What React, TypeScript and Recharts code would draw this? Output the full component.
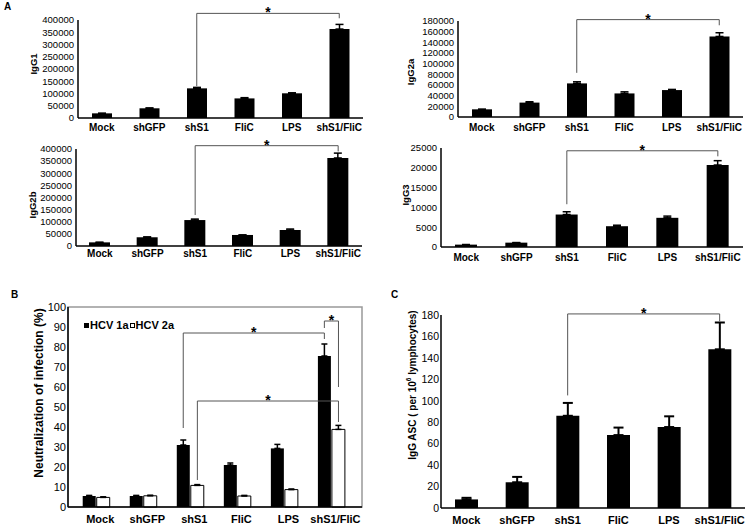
import React from 'react';
import {
  BarChart,
  Bar,
  XAxis,
  YAxis,
  ErrorBar,
  ReferenceLine,
  ReferenceArea,
  Legend
} from 'recharts';

const FONT = '"Liberation Sans", Arial, Helvetica, sans-serif';

const GROUPS = ['Mock', 'shGFP', 'shS1', 'FliC', 'LPS', 'shS1/FliC'];

// panel A: titres per IgG subclass
const IGG1 = [19000, 39600, 121000, 80000, 100800, 363000];
const IGG1_ERR = [0, 1500, 4000, 3000, 2000, 19000];
const IGG1_TICKS = [0, 50000, 100000, 150000, 200000, 250000, 300000, 350000, 400000];
const IGG1_BRACKET = [130000, 427000, 407000];

const IGG2A = [14400, 27000, 63000, 44200, 50500, 151000];
const IGG2A_ERR = [0, 1600, 3000, 3000, 1200, 7000];
const IGG2A_TICKS = [0, 20000, 40000, 60000, 80000, 100000, 120000, 140000, 160000, 180000];
const IGG2A_BRACKET = [82800, 182600, 172000];

const IGG2B = [15000, 36000, 107000, 45500, 66000, 363000];
const IGG2B_ERR = [0, 1500, 4000, 0, 4000, 20000];
const IGG2B_TICKS = [0, 50000, 100000, 150000, 200000, 250000, 300000, 350000, 400000];
const IGG2B_BRACKET = [128000, 413700, 390000];

const IGG3 = [600, 1100, 8200, 5250, 7370, 20700];
const IGG3_ERR = [0, 0, 700, 250, 430, 1100];
const IGG3_TICKS = [0, 5000, 10000, 15000, 20000, 25000];
const IGG3_BRACKET = [10800, 24300, 22900];

// panel B: neutralization
const HCV1A = [5.5, 5.5, 31, 21, 29.3, 75.5];
const HCV1A_ERR = [0.3, 0.3, 2.5, 1, 2, 6];
const HCV2A = [4.8, 5.6, 10.8, 5.5, 8.7, 38.8];
const HCV2A_ERR = [0.3, 0.3, 0.4, 0.3, 0.3, 2];
const NEUT_TICKS = [0, 10, 20, 30, 40, 50, 60, 70, 80, 90, 100];
const SERIES_B = ['HCV 1a', 'HCV 2a'];
const COLORS_B = ['#000', '#fff'];

// panel C: ELISpot
const ASC = [8, 24, 86, 68, 75.5, 148];
const ASC_ERR = [1.5, 5, 12, 7, 10, 25];
const ASC_TICKS = [0, 20, 40, 60, 80, 100, 120, 140, 160, 180];
const ASC_BRACKET = [105, 181, 174];

const rows = (vals: number[], errs: number[]) =>
  GROUPS.map((name, i) => ({ name, value: vals[i], err: [0, errs[i]] }));

const starLabel: any = {
  value: '*',
  position: 'top',
  offset: -4,
  fontSize: 14,
  fontWeight: 'bold',
  fill: '#000'
};

// significance bracket: [left foot, top, right foot]
const bracket = (id: string, x1: any, x2: any, [yl, yt, yr]: number[]) => {
  const line: any = { stroke: '#555', strokeWidth: 1, ifOverflow: 'visible' };
  return [
    <ReferenceLine key={id + 'l'} {...line} segment={[{ x: x1, y: yl }, { x: x1, y: yt }]} />,
    <ReferenceLine key={id + 't'} {...line} segment={[{ x: x1, y: yt }, { x: x2, y: yt }]} label={starLabel} />,
    <ReferenceLine key={id + 'r'} {...line} segment={[{ x: x2, y: yt }, { x: x2, y: yr }]} />
  ];
};

const yTitle = (x: number, y: number, size: number, content: any) => () => (
  <text
    x={x}
    y={y}
    transform={`rotate(-90 ${x} ${y})`}
    textAnchor="middle"
    dominantBaseline="central"
    fontSize={size}
    fontWeight="bold"
    fill="#000"
  >
    {content}
  </text>
);

const axisStyle = { stroke: '#000', strokeWidth: 1.5 };

interface IgProps {
  left: number;
  top: number;
  margin: { top: number; right: number; left: number; bottom: number };
  yWidth: number;
  xHeight: number;
  xGap: number;
  ticks: number[];
  values: number[];
  errs: number[];
  brk: number[];
  title: string;
  titleX: number;
  titleY: number;
  barSize: number;
}

const IgPanel = (p: IgProps) => {
  const data = rows(p.values, p.errs);
  return (
    <div style={{ position: 'absolute', left: p.left, top: p.top }}>
      <BarChart width={370} height={140} data={data} margin={p.margin}>
        <XAxis
          dataKey="name"
          interval={0}
          tickLine={false}
          tickSize={p.xGap}
          tickMargin={0}
          height={p.xHeight}
          axisLine={axisStyle}
          tick={{ fontSize: 10, fontWeight: 'bold', fill: '#000' }}
        />
        <YAxis
          width={p.yWidth}
          domain={[0, p.ticks[p.ticks.length - 1]]}
          ticks={p.ticks}
          interval={0}
          tickLine={false}
          tickSize={2}
          tickMargin={2}
          axisLine={axisStyle}
          tick={{ fontSize: 9.5, fill: '#000' }}
          label={yTitle(p.titleX, p.titleY, 9.5, p.title)}
        />
        <Bar dataKey="value" fill="#000" barSize={p.barSize} isAnimationActive={false}>
          <ErrorBar dataKey="err" width={4} strokeWidth={1.5} stroke="#000" direction="y" />
        </Bar>
        {bracket('a', 'shS1', 'shS1/FliC', p.brk)}
      </BarChart>
    </div>
  );
};

const renderLegend = () => (
  <div
    style={{
      display: 'flex',
      alignItems: 'center',
      fontSize: 11,
      fontWeight: 'bold',
      fontFamily: FONT,
      lineHeight: '12px',
      color: '#000',
      whiteSpace: 'nowrap'
    }}
  >
    {SERIES_B.map((name, i) => (
      <span key={name} style={{ display: 'inline-flex', alignItems: 'center', marginRight: 1 }}>
        <span
          style={{
            display: 'inline-block',
            width: 5,
            height: 5,
            background: COLORS_B[i],
            border: '1px solid #000',
            boxSizing: 'border-box',
            marginRight: 1
          }}
        />
        {name}
      </span>
    ))}
  </div>
);

const NeutPanel = () => {
  const data = GROUPS.map((name, i) => ({
    pos: i + 1,
    name,
    a: HCV1A[i],
    b: HCV2A[i],
    aErr: [0, HCV1A_ERR[i]],
    bErr: [0, HCV2A_ERR[i]]
  }));
  const dx = 0.15;
  return (
    <div style={{ position: 'absolute', left: 0, top: 285 }}>
      <BarChart
        width={375}
        height={242}
        data={data}
        barGap={1}
        margin={{ top: 22, right: 13, left: 0, bottom: 0 }}
      >
        <ReferenceArea x1={0.4} x2={6.65} y1={0} y2={100} fill="none" stroke="#999" strokeWidth={1.5} />
        <XAxis
          type="number"
          dataKey="pos"
          domain={[0.4, 6.65]}
          ticks={[1, 2, 3, 4, 5, 6]}
          interval={0}
          tickFormatter={(v: number) => GROUPS[v - 1]}
          tickLine={false}
          tickSize={8}
          tickMargin={0}
          height={20}
          axisLine={axisStyle}
          tick={{ fontSize: 11, fontWeight: 'bold', fill: '#000', dx: 4 }}
        />
        <YAxis
          width={68}
          domain={[0, 100]}
          ticks={NEUT_TICKS}
          interval={0}
          tickLine={false}
          tickSize={1}
          tickMargin={1}
          axisLine={axisStyle}
          tick={{ fontSize: 11, fill: '#000' }}
          label={yTitle(39, 108, 12, 'Neutralization of infection (%)')}
        />
        <Legend
          layout="vertical"
          align="center"
          verticalAlign="middle"
          wrapperStyle={{ left: 84, top: 34, width: 'auto', height: 'auto' }}
          content={renderLegend}
        />
        <Bar dataKey="a" name={SERIES_B[0]} fill={COLORS_B[0]} barSize={13} isAnimationActive={false}>
          <ErrorBar dataKey="aErr" width={3} strokeWidth={1.5} stroke="#000" direction="y" />
        </Bar>
        <Bar
          dataKey="b"
          name={SERIES_B[1]}
          fill={COLORS_B[1]}
          stroke="#000"
          strokeWidth={1}
          barSize={13}
          isAnimationActive={false}
        >
          <ErrorBar dataKey="bErr" width={3} strokeWidth={1.5} stroke="#000" direction="y" />
        </Bar>
        {bracket('b1', 3 - dx, 6 - dx, [39.5, 87, 84])}
        {bracket('b2', 3 + dx, 6 + dx, [13.5, 53, 42.5])}
        {bracket('b3', 6 - dx, 6 + dx, [89.5, 93, 60])}
      </BarChart>
    </div>
  );
};

const AscPanel = () => {
  const data = rows(ASC, ASC_ERR);
  return (
    <div style={{ position: 'absolute', left: 380, top: 285 }}>
      <BarChart width={373} height={242} data={data} margin={{ top: 30, right: 8, left: 0, bottom: 0 }}>
        <XAxis
          dataKey="name"
          interval={0}
          tickLine={false}
          tickSize={8}
          tickMargin={0}
          height={19}
          axisLine={axisStyle}
          tick={{ fontSize: 11, fontWeight: 'bold', fill: '#000' }}
        />
        <YAxis
          width={61}
          domain={[0, 180]}
          ticks={ASC_TICKS}
          interval={0}
          tickLine={false}
          tickSize={1}
          tickMargin={1}
          axisLine={axisStyle}
          tick={{ fontSize: 10.5, fill: '#000' }}
          label={yTitle(
            32,
            100,
            10,
            <>
              IgG ASC ( per 10
              <tspan dy={-4} fontSize={6.5}>
                6
              </tspan>
              <tspan dy={4}> lymphocytes)</tspan>
            </>
          )}
        />
        <Bar dataKey="value" fill="#000" barSize={23} isAnimationActive={false}>
          <ErrorBar dataKey="err" width={5} strokeWidth={2} stroke="#000" direction="y" />
        </Bar>
        {bracket('c', 'shS1', 'shS1/FliC', ASC_BRACKET)}
      </BarChart>
    </div>
  );
};

const letter = (text: string, left: number, top: number) => (
  <div
    style={{
      position: 'absolute',
      left,
      top,
      fontSize: 10,
      fontWeight: 'bold',
      lineHeight: '10px'
    }}
  >
    {text}
  </div>
);

export default function App() {
  return (
    <div
      style={{
        position: 'absolute',
        left: 0,
        top: 0,
        width: 753,
        height: 527,
        background: '#fff',
        fontFamily: FONT,
        color: '#000',
        overflow: 'hidden'
      }}
    >
      {letter('A', 4, 2)}
      {letter('B', 11, 290)}
      {letter('C', 391, 290)}
      <IgPanel
        left={0}
        top={0}
        margin={{ top: 20, right: 7, left: 0, bottom: 0 }}
        yWidth={78}
        xHeight={22}
        xGap={6}
        ticks={IGG1_TICKS}
        values={IGG1}
        errs={IGG1_ERR}
        brk={IGG1_BRACKET}
        title="IgG1"
        titleX={33}
        titleY={64}
        barSize={20}
      />
      <IgPanel
        left={380}
        top={0}
        margin={{ top: 21, right: 7, left: 0, bottom: 0 }}
        yWidth={78}
        xHeight={23}
        xGap={7}
        ticks={IGG2A_TICKS}
        values={IGG2A}
        errs={IGG2A_ERR}
        brk={IGG2A_BRACKET}
        title="IgG2a"
        titleX={30}
        titleY={72}
        barSize={20}
      />
      <IgPanel
        left={0}
        top={130}
        margin={{ top: 19, right: 8, left: 0, bottom: 0 }}
        yWidth={76}
        xHeight={24}
        xGap={3.5}
        ticks={IGG2B_TICKS}
        values={IGG2B}
        errs={IGG2B_ERR}
        brk={IGG2B_BRACKET}
        title="IgG2b"
        titleX={32}
        titleY={75}
        barSize={21}
      />
      <IgPanel
        left={380}
        top={130}
        margin={{ top: 18, right: 7, left: 0, bottom: 0 }}
        yWidth={61}
        xHeight={23}
        xGap={6.5}
        ticks={IGG3_TICKS}
        values={IGG3}
        errs={IGG3_ERR}
        brk={IGG3_BRACKET}
        title="IgG3"
        titleX={25}
        titleY={65}
        barSize={22}
      />
      <NeutPanel />
      <AscPanel />
    </div>
  );
}
